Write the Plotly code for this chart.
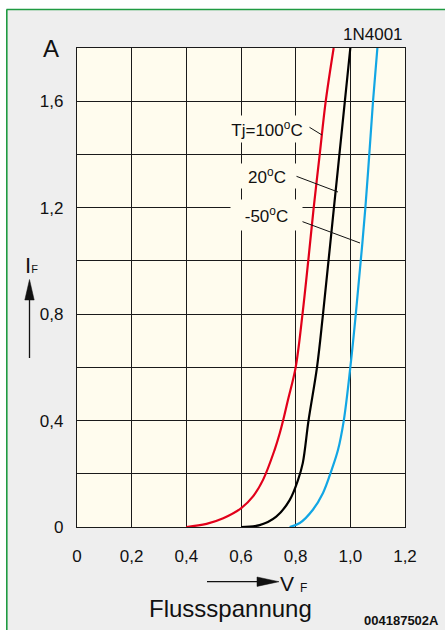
import plotly.graph_objects as go

# ---------------- data ----------------
v_100 = [0.40, 0.474, 0.535, 0.601, 0.644, 0.681, 0.723, 0.742, 0.754, 0.772, 0.80, 0.825, 0.846, 0.866, 0.888, 0.91, 0.939]
i_100 = [0.00, 0.012, 0.033, 0.071, 0.115, 0.178, 0.29, 0.353, 0.40, 0.478, 0.60, 0.80, 1.00, 1.20, 1.40, 1.60, 1.80]

v_20 = [0.60, 0.668, 0.729, 0.778, 0.809, 0.826, 0.847, 0.878, 0.900, 0.940, 0.980, 1.00]
i_20 = [0.00, 0.007, 0.039, 0.101, 0.178, 0.24, 0.40, 0.60, 0.80, 1.20, 1.60, 1.80]

v_m50 = [0.778, 0.815, 0.863, 0.900, 0.932, 0.955, 0.976, 1.00, 1.02, 1.055, 1.083, 1.099]
i_m50 = [0.00, 0.015, 0.065, 0.128, 0.216, 0.29, 0.40, 0.60, 0.80, 1.20, 1.60, 1.80]

x_tickvals = [0, 0.2, 0.4, 0.6, 0.8, 1.0, 1.2]
x_ticktext = ["0", "0,2", "0,4", "0,6", "0,8", "1,0", "1,2"]
y_tickvals = [0, 0.4, 0.8, 1.2, 1.6]
y_ticktext = ["0", "0,4", "0,8", "1,2", "1,6"]
y_minor_grid = [0.2, 0.6, 1.0, 1.4, 1.8]

curve_labels = ["Tj=100<sup>o</sup>C", "20<sup>o</sup>C", "-50<sup>o</sup>C"]

# ---------------- geometry helpers ----------------
W, H = 445, 630
ML, MR, MT, MB = 77, 40, 48, 103
PW, PH = W - ML - MR, H - MT - MB
XMAX, YMAX = 1.2, 1.8


def xp(px):  # pixel -> paper x
    return (px - ML) / PW


def yp(py):  # pixel -> paper y
    return (H - MB - py) / PH


def xd(px):  # pixel -> data x
    return (px - ML) / PW * XMAX


def yd(py):  # pixel -> data y
    return (H - MB - py) / PH * YMAX


FONT = "Liberation Sans, Arial, Helvetica, sans-serif"
CREAM = "#fffcee"
GRAY = "#eeeeee"
GREEN = "#1f9a42"
RED = "#e2001a"
BLUE = "#12a6e4"
GRID = "#1a1a1a"

fig = go.Figure()
for v, i, c in [(v_100, i_100, RED), (v_20, i_20, "#000000"), (v_m50, i_m50, BLUE)]:
    fig.add_trace(go.Scatter(x=v, y=i, mode="lines",
                             line=dict(color=c, width=2.2, shape="spline", smoothing=1.0),
                             hoverinfo="skip", showlegend=False, cliponaxis=False))

axis_common = dict(showgrid=True, gridcolor=GRID, gridwidth=1.2,
                   showline=True, mirror=True, linecolor=GRID, linewidth=1.3,
                   zeroline=False, ticks="", tickfont=dict(family=FONT, size=17, color="#111111"))
fig.update_xaxes(range=[0, XMAX], tickvals=x_tickvals, ticktext=x_ticktext,
                 ticklabelstandoff=13, **axis_common)
fig.update_yaxes(range=[0, YMAX], tickvals=y_tickvals, ticktext=y_ticktext,
                 ticklabelstandoff=9,
                 minor=dict(tickvals=y_minor_grid, showgrid=True, gridcolor=GRID, gridwidth=1.2, ticks=""),
                 **axis_common)

shapes = []
# white strips outside the green frame
shapes.append(dict(type="rect", xref="paper", yref="paper", x0=xp(-10), x1=xp(460), y0=yp(-10), y1=yp(9),
                   fillcolor="white", line=dict(width=0), layer="below"))
shapes.append(dict(type="rect", xref="paper", yref="paper", x0=xp(-10), x1=xp(6.5), y0=yp(640), y1=yp(-10),
                   fillcolor="white", line=dict(width=0), layer="below"))
# green frame lines
shapes.append(dict(type="line", xref="paper", yref="paper", x0=xp(6.5), x1=xp(460), y0=yp(9.5), y1=yp(9.5),
                   line=dict(color=GREEN, width=1.6)))
shapes.append(dict(type="line", xref="paper", yref="paper", x0=xp(6.8), x1=xp(6.8), y0=yp(9.5), y1=yp(640),
                   line=dict(color=GREEN, width=1.6)))
# leader lines for curve labels
for (a, b, c, d) in [(309, 127, 322, 135), (293, 175, 338, 192), (290, 217, 360, 243)]:
    shapes.append(dict(type="line", xref="x", yref="y", x0=xd(a), y0=yd(b), x1=xd(c), y1=yd(d),
                       line=dict(color="#111111", width=1)))
# y-axis arrow
shapes.append(dict(type="line", xref="paper", yref="paper", x0=xp(29.5), x1=xp(29.5), y0=yp(358), y1=yp(298),
                   line=dict(color="#111111", width=1.3)))
shapes.append(dict(type="path", xref="paper", yref="paper",
                   path=f"M {xp(29.5)} {yp(279.5)} L {xp(24.8)} {yp(300)} L {xp(34.2)} {yp(300)} Z",
                   fillcolor="#111111", line=dict(color="#111111", width=0.5)))
# x-axis arrow
shapes.append(dict(type="line", xref="paper", yref="paper", x0=xp(207), x1=xp(260), y0=yp(581.7), y1=yp(581.7),
                   line=dict(color="#111111", width=1.3)))
shapes.append(dict(type="path", xref="paper", yref="paper",
                   path=f"M {xp(279)} {yp(581.7)} L {xp(257)} {yp(577)} L {xp(257)} {yp(586.4)} Z",
                   fillcolor="#111111", line=dict(color="#111111", width=0.5)))

annotations = []


def txt(text, px, py, size, xanchor="center", bold=False, **kw):
    t = f"<b>{text}</b>" if bold else text
    annotations.append(dict(text=t, xref="paper", yref="paper", x=xp(px), y=yp(py),
                            xanchor=xanchor, yanchor="middle", showarrow=False,
                            font=dict(family=FONT, size=size, color="#111111"), **kw))


txt("1N4001", 372.5, 34, 17)
txt("A", 51, 49, 24)
txt("I<span style='font-size:11px'>F</span>", 22.5, 265, 22, xanchor="left")
txt("V", 277.5, 583, 21, xanchor="left")
txt("F", 297.5, 588, 12, xanchor="left")
txt("Flussspannung", 230, 608, 24)
txt("004187502A", 441, 620, 13, xanchor="right", bold=True)

# curve labels with cream background boxes that interrupt the grid
label_pos = [(266.5, 129, 84, 26), (266.5, 176, 58, 24), (266, 215, 71, 30)]
for lab, (cx, cy, bw, bh) in zip(curve_labels, label_pos):
    annotations.append(dict(text=lab, xref="x", yref="y", x=xd(cx), y=yd(cy),
                            xanchor="center", yanchor="middle", showarrow=False,
                            width=bw, height=bh, borderpad=0, bgcolor=CREAM,
                            font=dict(family=FONT, size=17, color="#111111")))

fig.update_layout(width=W, height=H, margin=dict(l=ML, r=MR, t=MT, b=MB),
                  paper_bgcolor=GRAY, plot_bgcolor=CREAM,
                  shapes=shapes, annotations=annotations, showlegend=False)

fig.write_html("out.html")
